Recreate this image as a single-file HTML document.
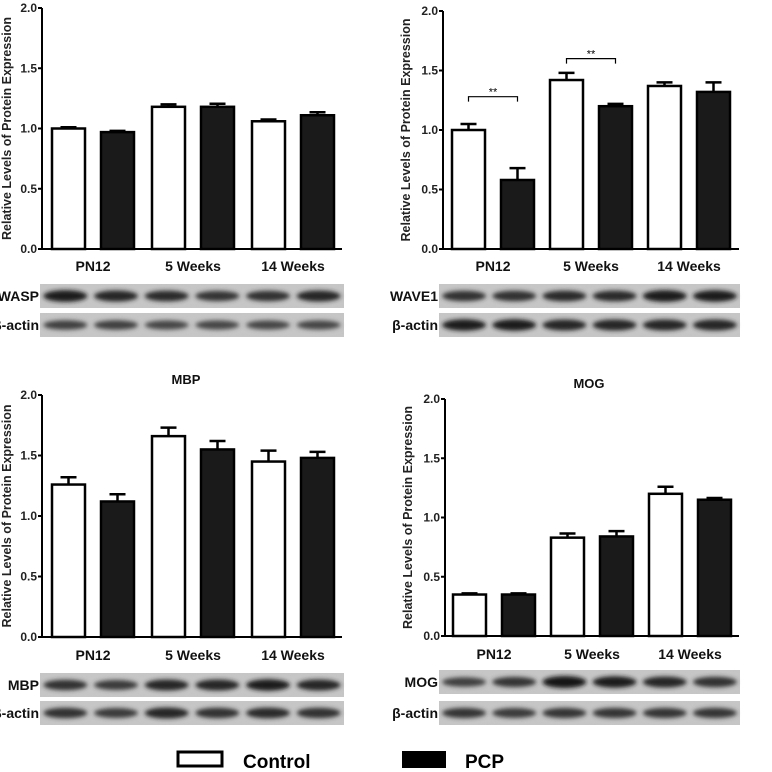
<!DOCTYPE html>
<html><head><meta charset="utf-8"><style>
html,body{margin:0;padding:0;background:#fff;}
svg{display:block;font-family:"Liberation Sans",Arial,sans-serif;}
</style></head><body>
<svg id="fig" width="772" height="772" viewBox="0 0 772 772">
<defs>
<filter id="blur" x="-20%" y="-60%" width="140%" height="220%"><feGaussianBlur stdDeviation="2"/></filter>
<filter id="noise" x="0" y="0" width="1" height="1" filterUnits="objectBoundingBox"><feTurbulence type="fractalNoise" baseFrequency="0.08 0.3" numOctaves="2" seed="3"/><feColorMatrix type="matrix" values="0 0 0 0 0.55  0 0 0 0 0.55  0 0 0 0 0.55  0 0 0 0.35 0"/><feComposite in2="SourceGraphic" operator="in"/></filter>
</defs>
<g id="legend">
<rect x="178" y="752" width="44" height="14" fill="#fff" stroke="#000" stroke-width="3"/>
<text x="243" y="768" font-size="19" font-weight="bold">Control</text>
<rect x="402" y="751" width="44" height="17" fill="#000"/>
<text x="465" y="768" font-size="19" font-weight="bold">PCP</text>
</g>
</svg>
<script>
const categories = ["PN12", "5 Weeks", "14 Weeks"];
const yTicks = [0.0, 0.5, 1.0, 1.5, 2.0];
const waspControl = [1.0, 1.18, 1.06];
const waspControlErr = [0.01, 0.02, 0.015];
const waspPcp = [0.97, 1.18, 1.11];
const waspPcpErr = [0.01, 0.025, 0.025];
const wave1Control = [1.0, 1.42, 1.37];
const wave1ControlErr = [0.05, 0.06, 0.03];
const wave1Pcp = [0.58, 1.2, 1.32];
const wave1PcpErr = [0.1, 0.02, 0.08];
const mbpControl = [1.26, 1.66, 1.45];
const mbpControlErr = [0.06, 0.07, 0.09];
const mbpPcp = [1.12, 1.55, 1.48];
const mbpPcpErr = [0.06, 0.07, 0.05];
const mogControl = [0.35, 0.83, 1.2];
const mogControlErr = [0.01, 0.035, 0.06];
const mogPcp = [0.35, 0.84, 1.15];
const mogPcpErr = [0.01, 0.045, 0.015];
const wave1SigLevels = [1.28, 1.6];
const waspBands = [0.95, 0.85, 0.8, 0.7, 0.75, 0.85];
const actinBands1 = [0.6, 0.6, 0.55, 0.55, 0.55, 0.55];
const wave1Bands = [0.75, 0.75, 0.8, 0.8, 0.95, 0.9];
const actinBands2 = [0.9, 0.9, 0.85, 0.85, 0.85, 0.85];
const mbpBands = [0.75, 0.65, 0.85, 0.85, 0.9, 0.85];
const actinBands3 = [0.75, 0.65, 0.85, 0.75, 0.8, 0.75];
const mogBands = [0.6, 0.7, 1.0, 0.9, 0.85, 0.75];
const actinBands4 = [0.7, 0.65, 0.7, 0.7, 0.7, 0.7];

const NS = "http://www.w3.org/2000/svg";
const svg = document.getElementById("fig");
function mk(tag, attrs, parent) {
  const e = document.createElementNS(NS, tag);
  for (const k in attrs) e.setAttribute(k, attrs[k]);
  (parent || svg).appendChild(e);
  return e;
}

function panel(cfg) {
  const g = mk("g", {});
  
  
  const ax = cfg.ax, y0 = cfg.y0, y2 = cfg.y2, xEnd = cfg.xEnd;
  const yS = v => y0 - (v / 2.0) * (y0 - y2);
  const barW = 33;
  const xS = (ci, s) => cfg.barStart + ci * cfg.groupStep + s * cfg.pairStep;
  const series = [[cfg.ctrl, cfg.ctrlErr, "#fff", "control"], [cfg.pcp, cfg.pcpErr, "#1a1a1a", "pcp"]];
  series.forEach((ser, s) => {
    ser[0].forEach((v, i) => {
      const x = xS(i, s);
      const top = yS(v), et = yS(v + ser[1][i]);
      const cx = x + barW / 2;
      const eb = mk("path", {d: `M${cx} ${top} V${et} M${cx - 8} ${et} H${cx + 8}`, stroke: "#000", "stroke-width": 2.5, fill: "none"}, g);
      
      
      const r = mk("rect", {x: x, y: top, width: barW, height: y0 - top, fill: ser[2], stroke: "#000", "stroke-width": 2.5}, g);
      
      
    });
  });
  const yAx = mk("path", {d: `M${ax} ${y2} V${y0} H${xEnd}`, stroke: "#000", "stroke-width": 2, fill: "none"}, g);
  
  
  yTicks.forEach(t => {
    const y = yS(t);
    mk("line", {x1: ax - 4, x2: ax, y1: y, y2: y, stroke: "#000", "stroke-width": 2}, g);
    const tx = mk("text", {x: ax - 5, y: y + 4, "font-size": 12, "font-weight": "bold", "text-anchor": "end", fill: "#222"}, g);
    tx.textContent = t.toFixed(1);
    
    
  });
  categories.forEach((c, i) => {
    const cx = (xS(i, 0) + xS(i, 1) + barW) / 2;
    const tx = mk("text", {x: cx, y: cfg.labelY, "font-size": 14, "font-weight": "bold", "text-anchor": "middle", fill: "#111"}, g);
    tx.textContent = c;
    
    
  });
  const yl = mk("text", {x: 0, y: 0, "font-size": 12.5, "font-weight": "bold", "text-anchor": "middle", fill: "#222", transform: `translate(${cfg.ylx},${(y0 + y2) / 2}) rotate(-90)`}, g);
  yl.textContent = "Relative Levels of Protein Expression";
  
  
  if (cfg.title) {
    const t = mk("text", {x: cfg.titleX, y: cfg.titleY, "font-size": 13, "font-weight": "bold", "text-anchor": "middle", fill: "#111"}, g);
    t.textContent = cfg.title;
    
    
  }
  if (cfg.sig) {
    cfg.sig.forEach((lv, i) => {
      const y = yS(lv);
      const x1 = xS(i, 0) + barW / 2, x2 = xS(i, 1) + barW / 2;
      const p = mk("path", {d: `M${x1} ${y + 5} V${y} H${x2} V${y + 5}`, stroke: "#000", "stroke-width": 1.2, fill: "none"}, g);
      
      
      const st = mk("text", {x: (x1 + x2) / 2, y: y - 1, "font-size": 11, "text-anchor": "middle"}, g);
      st.textContent = "**";
      
      
    });
  }
  cfg.blots.forEach((b) => {
    const bg = mk("g", {}, g);
    
    
    mk("rect", {x: cfg.blotX, y: b.y, width: cfg.blotW, height: 24, fill: "#c6c6c6"}, bg);
    mk("rect", {x: cfg.blotX, y: b.y, width: cfg.blotW, height: 24, fill: "#fff", filter: "url(#noise)"}, bg);
    b.bands.forEach((d, k) => {
      const cx = cfg.blotX + cfg.blotW * (k + 0.5) / 6;
      const sh = Math.round(20 + (1 - d) * 110);
      mk("ellipse", {cx: cx, cy: b.y + 12, rx: 22, ry: 3 + 3 * d, fill: `rgb(${sh},${sh},${sh})`, filter: "url(#blur)"}, bg);
    });
    const lt = mk("text", {x: cfg.blotX - 1, y: b.y + 17, "font-size": 14, "font-weight": "bold", "text-anchor": "end", fill: "#111"}, bg);
    lt.textContent = b.label;
    
    
  });
}

panel({name: "wasp", ax: 42, y0: 249, y2: 8, xEnd: 342, barStart: 52, groupStep: 100, pairStep: 49, labelY: 271, ylx: 11,
  ctrl: waspControl, ctrlErr: waspControlErr, pcp: waspPcp, pcpErr: waspPcpErr, blotX: 40, blotW: 304,
  blots: [{y: 284, label: "WASP", bands: waspBands}, {y: 313, label: "β-actin", bands: actinBands1}]});
panel({name: "wave1", ax: 443, y0: 249, y2: 11, xEnd: 739, barStart: 452, groupStep: 98, pairStep: 49, labelY: 271, ylx: 410,
  ctrl: wave1Control, ctrlErr: wave1ControlErr, pcp: wave1Pcp, pcpErr: wave1PcpErr, sig: wave1SigLevels, blotX: 439, blotW: 301,
  blots: [{y: 284, label: "WAVE1", bands: wave1Bands}, {y: 313, label: "β-actin", bands: actinBands2}]});
panel({name: "mbp", ax: 42, y0: 637, y2: 395, xEnd: 342, barStart: 52, groupStep: 100, pairStep: 49, labelY: 660, ylx: 11,
  ctrl: mbpControl, ctrlErr: mbpControlErr, pcp: mbpPcp, pcpErr: mbpPcpErr, title: "MBP", titleX: 186, titleY: 384, blotX: 40, blotW: 304,
  blots: [{y: 673, label: "MBP", bands: mbpBands}, {y: 701, label: "β-actin", bands: actinBands3}]});
panel({name: "mog", ax: 445, y0: 636, y2: 399, xEnd: 739, barStart: 453, groupStep: 98, pairStep: 49, labelY: 659, ylx: 412,
  ctrl: mogControl, ctrlErr: mogControlErr, pcp: mogPcp, pcpErr: mogPcpErr, title: "MOG", titleX: 589, titleY: 388, blotX: 439, blotW: 301,
  blots: [{y: 670, label: "MOG", bands: mogBands}, {y: 701, label: "β-actin", bands: actinBands4}]});
svg.appendChild(document.getElementById("legend"));
</script>
</body></html>
